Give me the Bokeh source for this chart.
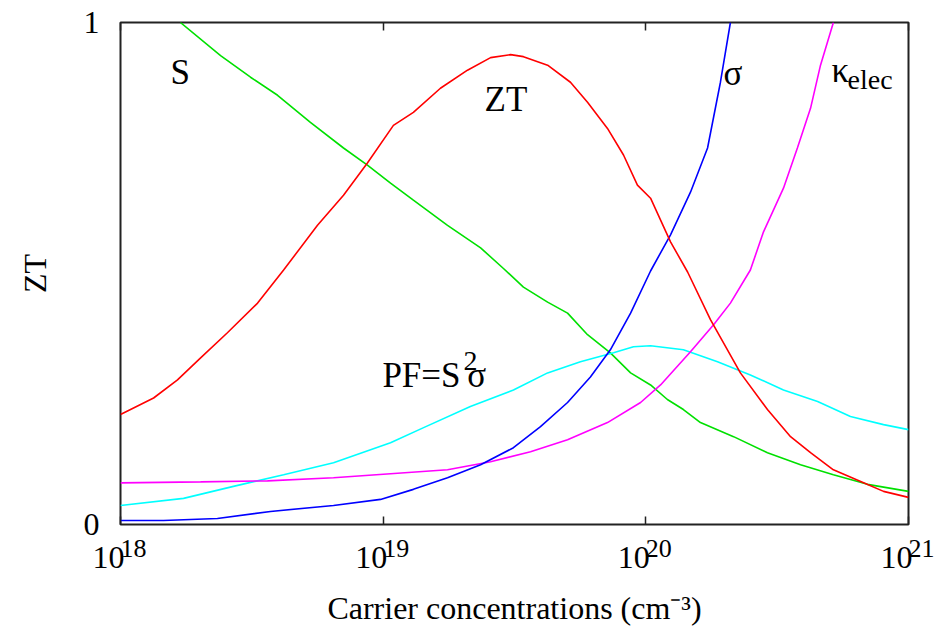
import numpy as np
from bokeh.plotting import figure
from bokeh.models import Label, FixedTicker, LogAxis, CustomJSTickFormatter, Range1d
from bokeh.embed import file_html
from bokeh.resources import INLINE

FONT = "Liberation Serif"
FS_AX = "32px"
FS_AX_SUP = "26px"
FS_IN = "35px"
FS_IN_SUB = "28px"
NBSP = "\u00a0"

# ---- data (x stored as log10 of carrier concentration, cm^-3) ----
x_tick_exponents = [18, 19, 20, 21]
x_tick_base = "10"
x_title = "Carrier concentrations (cm\u207b\u00b3)"
y_ticks = [0, 1]
y_title = "ZT"

zt_logn = [18.000, 18.126, 18.217, 18.305, 18.407, 18.522, 18.621, 18.750, 18.849,
           18.940, 19.039, 19.115, 19.218, 19.321, 19.409, 19.485, 19.534, 19.626,
           19.713, 19.778, 19.854, 19.915, 19.968, 20.018, 20.094, 20.159, 20.246,
           20.360, 20.463, 20.551, 20.627, 20.714, 20.829, 20.905, 21.000]
zt_val = [0.219, 0.252, 0.288, 0.332, 0.382, 0.441, 0.507, 0.596, 0.656,
          0.720, 0.795, 0.821, 0.869, 0.905, 0.930, 0.936, 0.932, 0.915,
          0.881, 0.841, 0.789, 0.736, 0.676, 0.650, 0.563, 0.503, 0.408,
          0.302, 0.229, 0.175, 0.143, 0.109, 0.083, 0.066, 0.054]

s_logn = [18.228, 18.381, 18.495, 18.598, 18.723, 18.849, 18.940, 19.028, 19.115,
          19.245, 19.371, 19.458, 19.534, 19.626, 19.702, 19.778, 19.865, 19.942,
          20.018, 20.082, 20.143, 20.208, 20.334, 20.463, 20.589, 20.714, 20.844, 21.000]
s_val = [1.000, 0.934, 0.891, 0.855, 0.801, 0.750, 0.716, 0.680, 0.646,
         0.596, 0.551, 0.510, 0.473, 0.443, 0.421, 0.378, 0.342, 0.302,
         0.278, 0.249, 0.229, 0.203, 0.175, 0.143, 0.119, 0.099, 0.080, 0.066]

sigma_logn = [18.000, 18.164, 18.369, 18.571, 18.811, 18.990, 19.115, 19.245, 19.371,
              19.496, 19.599, 19.702, 19.789, 19.865, 19.942, 20.018, 20.094, 20.170,
              20.235, 20.284, 20.322]
sigma_val = [0.008, 0.008, 0.012, 0.026, 0.038, 0.050, 0.070, 0.093, 0.119,
             0.153, 0.195, 0.243, 0.294, 0.348, 0.421, 0.505, 0.577, 0.662,
             0.750, 0.881, 1.000]

kappa_logn = [18.000, 18.305, 18.560, 18.811, 19.028, 19.245, 19.409, 19.561, 19.702,
              19.854, 19.980, 20.056, 20.170, 20.258, 20.322, 20.398, 20.448, 20.524,
              20.577, 20.627, 20.665, 20.714]
kappa_val = [0.083, 0.085, 0.087, 0.093, 0.101, 0.109, 0.125, 0.145, 0.169,
             0.203, 0.243, 0.278, 0.344, 0.398, 0.441, 0.507, 0.583, 0.670,
             0.750, 0.829, 0.915, 1.000]

pf_logn = [18.000, 18.240, 18.430, 18.621, 18.811, 19.028, 19.154, 19.332, 19.496,
           19.626, 19.751, 19.877, 19.953, 20.018, 20.143, 20.273, 20.398, 20.524,
           20.654, 20.779, 20.905, 21.000]
pf_val = [0.038, 0.052, 0.076, 0.099, 0.123, 0.163, 0.193, 0.235, 0.268,
          0.302, 0.324, 0.342, 0.354, 0.356, 0.348, 0.324, 0.298, 0.268,
          0.245, 0.215, 0.199, 0.189]

def conc(exps):
    return [10.0 ** e for e in exps]

p = figure(width=939, height=628, x_axis_type="log",
           x_range=Range1d(1e18, 1e21), y_range=Range1d(0, 1),
           output_backend="svg", toolbar_location=None,
           min_border_left=120, min_border_right=31,
           min_border_top=22, min_border_bottom=103)
p.grid.visible = False
p.background_fill_color = "white"
p.border_fill_color = "white"
p.outline_line_color = "#222222"
p.outline_line_width = 2

# axis A (next to the frame): tick marks + exponents (superscripts)
xa = p.xaxis[0]
xa.ticker = FixedTicker(ticks=conc(x_tick_exponents))
xa.major_label_overrides = {10.0 ** e: NBSP * 4 + str(e) for e in x_tick_exponents}
xa.major_label_text_font = FONT
xa.major_label_text_font_size = FS_AX_SUP
xa.major_label_text_color = "black"
xa.major_label_standoff = 9
xa.major_tick_in = 8
xa.major_tick_out = 0
xa.minor_tick_line_color = None
xa.axis_line_color = None
xa.major_tick_line_color = "#222222"
xa.major_tick_line_width = 1.5

# axis B (below A): the "10" bases and the axis title
xb = LogAxis(ticker=FixedTicker(ticks=conc(x_tick_exponents)),
             major_label_overrides={10.0 ** e: x_tick_base + NBSP * 3 for e in x_tick_exponents},
             major_label_text_font=FONT, major_label_text_font_size=FS_AX,
             major_label_text_color="black", major_label_standoff=-27,
             major_tick_in=0, major_tick_out=0, major_tick_line_color=None,
             minor_tick_line_color=None, axis_line_color=None,
             axis_label=x_title, axis_label_text_font=FONT,
             axis_label_text_font_size=FS_AX, axis_label_text_font_style="normal",
             axis_label_text_color="black", axis_label_standoff=12)
p.add_layout(xb, "below")

top = LogAxis(ticker=FixedTicker(ticks=conc(x_tick_exponents)),
              formatter=CustomJSTickFormatter(code="return ''"),
              major_tick_in=8, major_tick_out=0, minor_tick_line_color=None,
              axis_line_color=None, major_tick_line_color="#222222",
              major_tick_line_width=1.5, major_label_standoff=0)
p.add_layout(top, "above")

ya = p.yaxis[0]
ya.ticker = FixedTicker(ticks=y_ticks)
ya.major_tick_in = 0
ya.major_tick_out = 0
ya.minor_tick_line_color = None
ya.axis_line_color = None
ya.major_label_text_font = FONT
ya.major_label_text_font_size = FS_AX
ya.major_label_text_color = "black"
ya.major_label_standoff = 21
ya.axis_label = y_title
ya.axis_label_text_font = FONT
ya.axis_label_text_font_size = FS_AX
ya.axis_label_text_font_style = "normal"
ya.axis_label_text_color = "black"
ya.axis_label_standoff = 28

lw = 1.6
p.line(conc(s_logn), s_val, line_color="#00e000", line_width=lw)
p.line(conc(pf_logn), pf_val, line_color="#00ffff", line_width=lw)
p.line(conc(kappa_logn), kappa_val, line_color="#ff00ff", line_width=lw)
p.line(conc(sigma_logn), sigma_val, line_color="#0000ff", line_width=lw)
p.line(conc(zt_logn), zt_val, line_color="#ff0000", line_width=lw)

def lab(x, y, text, size=FS_IN):
    p.add_layout(Label(x=x, y=y, text=text,
                       text_font=FONT, text_font_size=size, text_color="black",
                       text_align="left", text_baseline="middle"))

# curve labels
lab(10 ** 18.19, 0.901, "S")
lab(10 ** 19.386, 0.847, "ZT")
lab(10 ** 20.296, 0.899, "\u03c3")
lab(10 ** 20.707, 0.905, "\u03ba")
lab(10 ** 20.768, 0.887, "elec", size=FS_IN_SUB)
lab(10 ** 18.997, 0.296, "PF=S")
lab(10 ** 19.306, 0.326, "2", size=FS_IN_SUB)
lab(10 ** 19.32, 0.296, "\u03c3")

open("out.html", "w").write(file_html(p, INLINE))
